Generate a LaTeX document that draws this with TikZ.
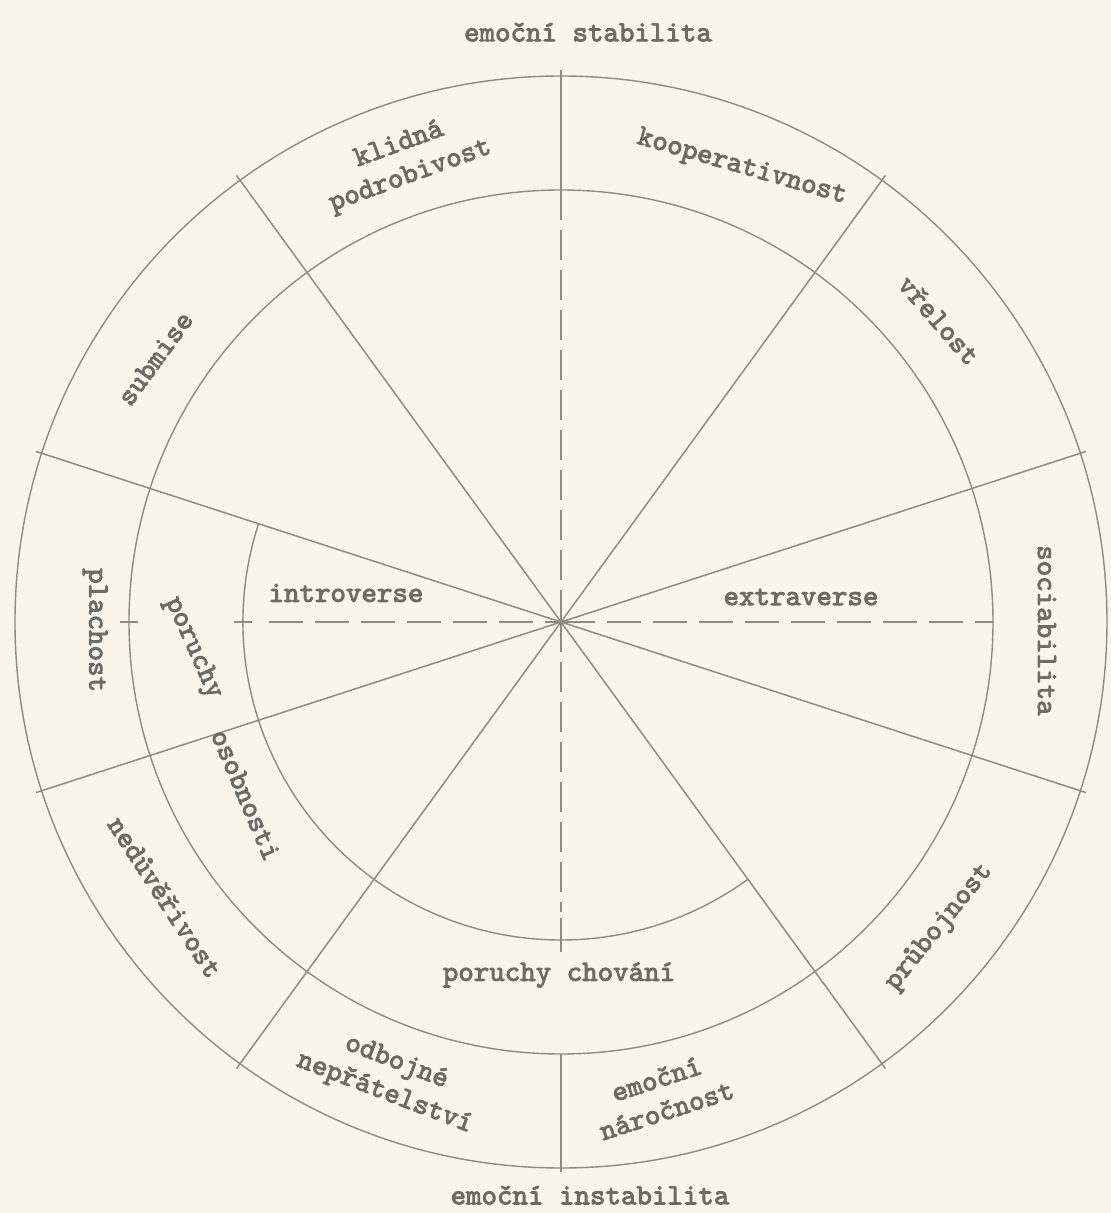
\documentclass[tikz,border=0pt]{standalone}
\usepackage{fontspec}
\newfontfamily\tw{lmmono10-regular}[Extension=.otf,FakeBold=3]
\definecolor{paper}{RGB}{248,246,236}
\definecolor{ink}{RGB}{140,140,134}
\definecolor{txt}{RGB}{108,108,103}
\begin{document}
\begin{tikzpicture}[x=1pt,y=1pt,
  ring/.style={draw=ink,line width=1.4pt},
  ray/.style={draw=ink,line width=1.5pt},
  haxis/.style={draw=ink,line width=1.4pt,dash pattern=on 34pt off 12pt},
  vaxis/.style={draw=ink,line width=1.4pt,dash pattern=on 30pt off 10pt},
  lab/.style={font=\fontsize{29.5}{33}\selectfont\tw,text=txt,inner sep=0pt,align=center}]
\useasboundingbox[fill=paper] (-561,-591) rectangle (550,622);
\coordinate (c) at (0,0);
% circles
\draw[ring] (c) circle (546);
\draw[ring] (c) circle (432);
\draw[ring] (162:318) arc (162:306:318);
% radial lines
\foreach \a in {18,54,126,162,198,234,306,342}{
  \draw[ray] (c) -- (\a:552);
}
\draw[ray] (90:432) -- (90:552);
\draw[ray] (270:432) -- (270:550);
% dashed axes
\draw[vaxis] (90:432) -- (c);
\draw[vaxis] (c) -- (270:290);
\draw[ray] (270:296) -- (270:330);
\draw[haxis] (180:292) -- (c);
\draw[haxis] (c) -- (0:432);
% ticks
\draw[ray] (180:441) -- (180:423);
\draw[ray] (180:327) -- (180:309);
% outer ring labels
\node[lab] (st) at (27,590) {emoční stabilita};
\node[lab] (inst) at (29,-573) {emoční instabilita};
\node[lab,rotate=20] (kl) at (108.7:487) {klidná\\podrobivost};
\node[lab,rotate=-16] (ko) at (68.3:489) {kooperativnost};
\node[lab,rotate=-49] (vr) at (38.6:484) {vřelost};
\node[lab,rotate=-90] (so) at (-1:486) {sociabilita};
\node[lab,rotate=51] (pr) at (-38.9:486) {průbojnost};
\node[lab,rotate=18] (en) at (-78:483) {emoční\\náročnost};
\node[lab,rotate=-21] (od) at (249.5:487) {odbojné\\nepřátelství};
\node[lab,rotate=-57] (ne) at (214.8:482) {nedůvěřivost};
\node[lab,rotate=-90] (pl) at (181:466) {plachost};
\node[lab,rotate=54] (su) at (147:484) {submise};
% inner labels
\node[lab] (in) at (-215,29) {introverse};
\node[lab] (ex) at (240,25) {extraverse};
\node[lab] (pc) at (-2,-353) {poruchy chování};
\node[lab,rotate=-66] (po1) at (-368,-26) {poruchy};
\node[lab,rotate=-67] (po2) at (-315,-173) {osobnosti};
\end{tikzpicture}
\end{document}
